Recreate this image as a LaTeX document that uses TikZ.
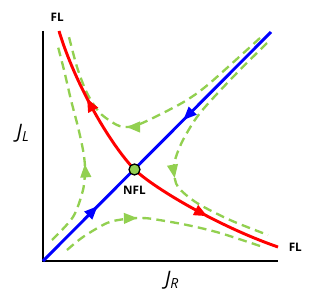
\documentclass[tikz,border=0pt]{standalone}
\usepackage{fontspec}
\setsansfont{Open Sans}
\usepackage{tikz}
\usetikzlibrary{arrows.meta, positioning, decorations.markings}

\definecolor{flowgreen}{RGB}{146,208,80}

\begin{document}
\begin{tikzpicture}[
        % styles
        x=0.03cm, y=0.03cm,
        >={Triangle[length=11.5pt, width=9pt]}, % arrow tip
        axisline/.style={line width=2.2pt, black},
        stable/.style={line width=2.5pt, blue},
        unstable/.style={line width=2.5pt, red},
        flow/.style={line width=2pt, flowgreen, dash pattern=on 7.5pt off 4.5pt},
        fwd/.style={postaction={decorate, decoration={markings,
            mark=at position #1 with {\arrow{>}}}}},
        bwd/.style={postaction={decorate, decoration={markings,
            mark=at position #1 with {\arrowreversed{>}}}}},
        tag/.style={font=\sffamily\bfseries\fontsize{10}{12}\selectfont, inner sep=0pt},
        axlabel/.style={font=\sffamily\itshape\fontsize{17}{20}\selectfont, inner sep=0pt}
    ]
    \useasboundingbox (0,0) rectangle (327,299);

    % 1. key points
    \coordinate (origin) at (43,38);
    \coordinate (ytop) at (43,268);
    \coordinate (xend) at (278,38);
    \coordinate (bluetop) at (271,267);
    \coordinate (nflpt) at (134.5,129.5);
    \coordinate (redtop) at (59,268);
    \coordinate (redend) at (278,52);

    % 2. axes
    \draw[axisline] (ytop) -- (origin) -- (xend);
    \node (jl) [axlabel] at (23,166) {J\textsubscript{L}};
    \node (jr) [axlabel] at (172,19) {J\textsubscript{R}};

    % 3. trajectories (green dashed)
    \draw[flow, fwd=0.58] plot[smooth] coordinates {(260,261) (210,216) (187,199) (163,186) (140,175) (128,172) (117,174) (100,186) (87,206) (77,232) (68,266)};
    \draw[flow, fwd=0.41] plot[smooth] coordinates {(52,59) (73,82) (83,109) (85,131) (83,149) (78,172) (71,199) (64,229) (57,256)};
    \draw[flow, fwd=0.38] plot[smooth] coordinates {(67,49) (83,62) (107,76) (125,80) (140,81) (153,80) (187,74) (220,66) (263,52)};
    \draw[flow, fwd=0.6] plot[smooth] coordinates {(267,256) (233,222) (200,186) (183,159) (175,139) (174,127) (178,112) (197,96) (230,79) (268,64)};

    % 4. stable (blue) and unstable (red) manifolds
    \draw[stable, fwd=0.24, bwd=0.615] (origin) -- (bluetop);
    \draw[unstable, fwd=0.54] (nflpt) .. controls (110,155) and (75,215) .. (redtop);
    \draw[unstable, fwd=0.53] (nflpt) .. controls (155,110) and (220,72) .. (redend);

    % 5. fixed point and labels
    \node (nfl) [circle, draw=black, line width=1.1pt, fill=flowgreen, minimum size=0.33cm, inner sep=0pt] at (nflpt) {};
    \node (nfltext) [tag, below=8.5pt of nfl] {NFL};
    \node (fltop) [tag, above=8pt of redtop, xshift=-1.5pt] {FL};
    \node (flright) [tag, right=9pt of redend] {FL};

\end{tikzpicture}
\end{document}
